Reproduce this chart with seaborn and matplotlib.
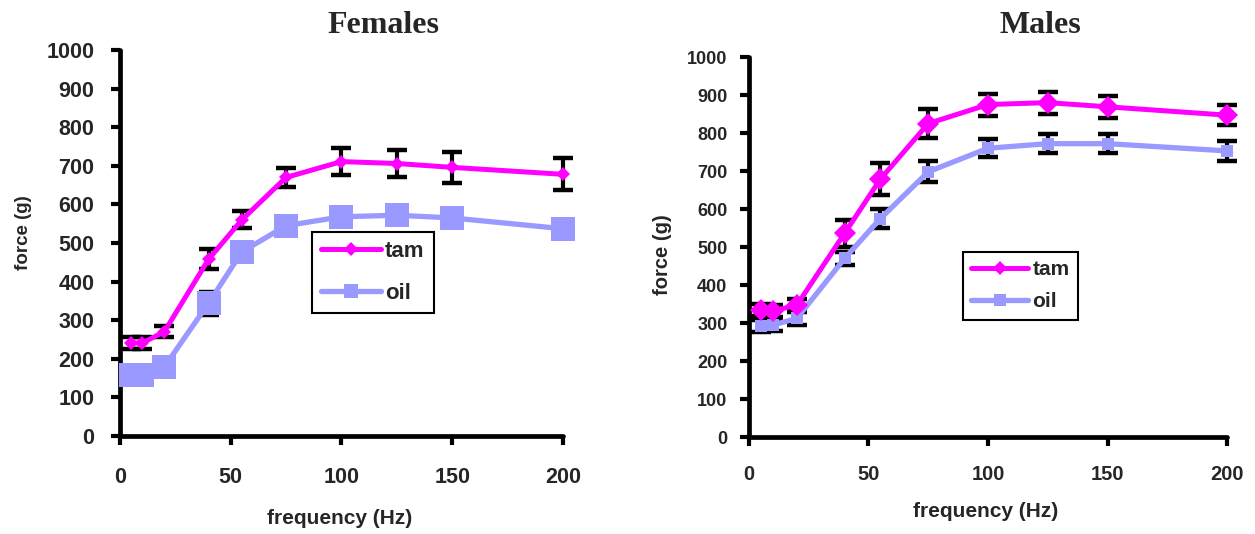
import matplotlib
matplotlib.use("Agg")
import matplotlib.pyplot as plt
import seaborn as sns
from matplotlib.lines import Line2D

# -----------------------------
# Data
# -----------------------------
freq = [5, 10, 20, 40, 55, 75, 100, 125, 150, 200]

fem_tam = [241, 241, 270, 458, 560, 670, 711, 706, 696, 678]
fem_tam_err = [16, 16, 14, 26, 22, 24, 35, 35, 40, 41]
fem_oil = [158, 158, 179, 344, 477, 545, 568, 572, 565, 537]
fem_oil_err = [12, 12, 12, 30, 20, 18, 20, 20, 20, 20]

male_tam = [334, 332, 347, 536, 679, 825, 875, 880, 869, 847]
male_tam_err = [15, 15, 15, 36, 42, 37, 29, 29, 29, 27]
male_oil = [292, 295, 312, 470, 575, 698, 760, 772, 772, 753]
male_oil_err = [16, 16, 18, 18, 25, 28, 24, 25, 25, 26]

series_names = ["tam", "oil"]
panel_titles = ["Females", "Males"]

TAM = "#FF00FF"
OIL = "#9999FF"

sns.set_style("white")
plt.rcParams["font.family"] = ["Liberation Sans", "DejaVu Sans"]
plt.rcParams["font.weight"] = "bold"

fig = plt.figure(figsize=(12.55, 5.34), dpi=100)
ax_f = fig.add_axes([0.0956, 0.1835, 0.3530, 0.7228])
ax_m = fig.add_axes([0.5968, 0.1816, 0.3809, 0.7116])


def draw_panel(ax, tam, tam_err, oil, oil_err, tam_ms, oil_ms):
    ax.errorbar(freq, tam, yerr=tam_err, fmt="none", ecolor="black",
                elinewidth=3, capsize=7, capthick=3.2, zorder=1.5, clip_on=False)
    ax.errorbar(freq, oil, yerr=oil_err, fmt="none", ecolor="black",
                elinewidth=3, capsize=7, capthick=3.2, zorder=1.5, clip_on=False)
    sns.lineplot(x=freq, y=oil, ax=ax, color=OIL, lw=3.8, marker="s",
                 markersize=oil_ms, markeredgewidth=0, clip_on=False, zorder=3)
    sns.lineplot(x=freq, y=tam, ax=ax, color=TAM, lw=3.6, marker="D",
                 markersize=tam_ms, markeredgewidth=0, clip_on=False, zorder=4)
    ax.set_xlim(0, 200)
    ax.set_ylim(0, 1000)
    ax.set_xticks(range(0, 201, 50))
    ax.set_yticks(range(0, 1001, 100))
    for s in ["top", "right"]:
        ax.spines[s].set_visible(False)
    for s in ["left", "bottom"]:
        ax.spines[s].set_linewidth(3.4)
        ax.spines[s].set_color("black")
        ax.spines[s].set_capstyle("round")
    ax.tick_params(axis="both", direction="out", length=6.5, width=3,
                   color="black", left=True, bottom=True)


# -----------------------------
# Females
# -----------------------------
draw_panel(ax_f, fem_tam, fem_tam_err, fem_oil, fem_oil_err, 7, 17.5)
ax_f.tick_params(axis="y", labelsize=15.5, pad=12)
ax_f.tick_params(axis="x", labelsize=15.5, pad=16)
ax_f.set_xlabel("frequency (Hz)", fontsize=15, fontweight="bold")
ax_f.set_ylabel("force (g)", fontsize=13.5, fontweight="bold")
ax_f.xaxis.set_label_coords(0.495, -0.19)
ax_f.yaxis.set_label_coords(-0.199, 0.528)
ax_f.text(0.594, 1.044, panel_titles[0], transform=ax_f.transAxes,
          ha="center", va="baseline", fontsize=23, fontweight="bold",
          family=["Liberation Serif", "DejaVu Serif"])

h_f = [Line2D([], [], color=TAM, lw=3.6, marker="D", ms=7, mew=0),
       Line2D([], [], color=OIL, lw=3.8, marker="s", ms=10, mew=0)]
leg = ax_f.legend(h_f, series_names, loc="upper left",
                  bbox_to_anchor=(0.433, 0.529), frameon=True, fancybox=False,
                  edgecolor="black", framealpha=1, handlelength=2.7,
                  handletextpad=0.2, labelspacing=0.95, borderpad=0.4,
                  borderaxespad=0, prop={"size": 16, "weight": "bold"})
leg.get_frame().set_linewidth(1.5)

# -----------------------------
# Males
# -----------------------------
draw_panel(ax_m, male_tam, male_tam_err, male_oil, male_oil_err, 11, 9)
ax_m.tick_params(axis="y", labelsize=13, pad=9)
ax_m.tick_params(axis="x", labelsize=14.5, pad=14)
ax_m.set_xlabel("frequency (Hz)", fontsize=15, fontweight="bold")
ax_m.set_ylabel("force (g)", fontsize=14.5, fontweight="bold")
ax_m.xaxis.set_label_coords(0.494, -0.172)
ax_m.yaxis.set_label_coords(-0.161, 0.48)
ax_m.text(0.609, 1.063, panel_titles[1], transform=ax_m.transAxes,
          ha="center", va="baseline", fontsize=23, fontweight="bold",
          family=["Liberation Serif", "DejaVu Serif"])

h_m = [Line2D([], [], color=TAM, lw=3.6, marker="D", ms=7, mew=0),
       Line2D([], [], color=OIL, lw=3.8, marker="s", ms=8, mew=0)]
leg = ax_m.legend(h_m, series_names, loc="upper left",
                  bbox_to_anchor=(0.447, 0.488), frameon=True, fancybox=False,
                  edgecolor="black", framealpha=1, handlelength=2.75,
                  handletextpad=0.2, labelspacing=0.65, borderpad=0.4,
                  borderaxespad=0, prop={"size": 15, "weight": "bold"})
leg.get_frame().set_linewidth(1.5)

for lab in ax_f.get_xticklabels() + ax_f.get_yticklabels() + \
        ax_m.get_xticklabels() + ax_m.get_yticklabels():
    lab.set_fontweight("bold")

fig.savefig("out.png", dpi=100)
plt.close(fig)
